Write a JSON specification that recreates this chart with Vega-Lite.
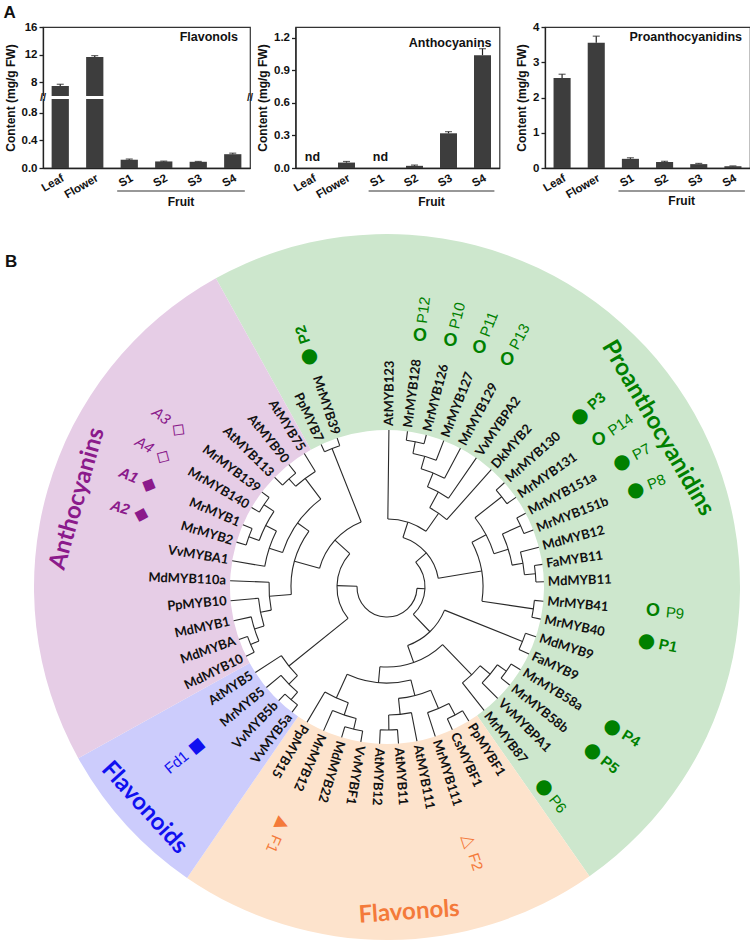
{
  "$schema": "https://vega.github.io/schema/vega-lite/v6.json",
  "background": "white",
  "padding": {"left": 3, "top": 4, "right": 0, "bottom": 0},
  "config": {
    "view": {"stroke": null},
    "font": "Liberation Sans",
    "axis": {"labelFont": "Liberation Sans", "labelFontWeight": "bold", "labelFontSize": 11.5, "labelColor": "#111", "labelOverlap": false, "titleFont": "Liberation Sans", "titleFontWeight": "bold", "titleFontSize": 12, "titleColor": "#111", "domainColor": "#222", "domainWidth": 1.3, "tickColor": "#222", "tickWidth": 1.3, "tickSize": 4, "grid": false}
  },
  "datasets": {
    "flav": [
      {"sample": "Leaf", "value": 7.45, "hi": 7.7},
      {"sample": "Flower", "value": 11.65, "hi": 11.85},
      {"sample": "S1", "value": 0.12, "hi": 0.13},
      {"sample": "S2", "value": 0.095, "hi": 0.1},
      {"sample": "S3", "value": 0.09, "hi": 0.095},
      {"sample": "S4", "value": 0.2, "hi": 0.215}
    ],
    "anth": [
      {"sample": "Leaf", "value": null, "hi": null, "note": "nd"},
      {"sample": "Flower", "value": 0.05, "hi": 0.06, "note": ""},
      {"sample": "S1", "value": null, "hi": null, "note": "nd"},
      {"sample": "S2", "value": 0.02, "hi": 0.027, "note": ""},
      {"sample": "S3", "value": 0.32, "hi": 0.335, "note": ""},
      {"sample": "S4", "value": 1.04, "hi": 1.1, "note": ""}
    ],
    "pa": [
      {"sample": "Leaf", "value": 2.55, "hi": 2.66},
      {"sample": "Flower", "value": 3.55, "hi": 3.74},
      {"sample": "S1", "value": 0.26, "hi": 0.29},
      {"sample": "S2", "value": 0.17, "hi": 0.19},
      {"sample": "S3", "value": 0.11, "hi": 0.13},
      {"sample": "S4", "value": 0.05, "hi": 0.06}
    ],
    "fruit": [{"first": "S1", "last": "S4", "mid": "S2", "label": "Fruit"}],
    "breaks": [{"edge": "Leaf", "mark": "//"}],
    "breaksRight": [{"edge": "S4", "mark": "//"}],
    "sectors": [
      {"group": "Proanthocyanidins", "start": 331, "end": 505},
      {"group": "Flavonols", "start": 145, "end": 214.5},
      {"group": "Flavonoids", "start": 214.5, "end": 241},
      {"group": "Anthocyanins", "start": 241, "end": 331}
    ],
    "clades": [
      {"group": "Proanthocyanidins", "theta": 59.6, "dist": 314},
      {"group": "Anthocyanins", "theta": 285.9, "dist": 322},
      {"group": "Flavonoids", "theta": 227.7, "dist": 328},
      {"group": "Flavonols", "theta": 176.1, "dist": 326}
    ],
    "leaves": [
      {"name": "AtMYB123", "theta": 0.7, "rp": 68},
      {"name": "MrMYB128", "theta": 7.5, "rp": 148},
      {"name": "MrMYB126", "theta": 14.5, "rp": 148},
      {"name": "MrMYB127", "theta": 21.2, "rp": 136},
      {"name": "MrMYB129", "theta": 27.9, "rp": 123},
      {"name": "VvMYBPA2", "theta": 34.7, "rp": 108},
      {"name": "DkMYB2", "theta": 41.6, "rp": 90},
      {"name": "MrMYB130", "theta": 48.4, "rp": 146},
      {"name": "MrMYB131", "theta": 55.2, "rp": 146},
      {"name": "MrMYB151a", "theta": 62, "rp": 147},
      {"name": "MrMYB151b", "theta": 68.7, "rp": 147},
      {"name": "MdMYB12", "theta": 75.3, "rp": 138},
      {"name": "FaMYB11", "theta": 81.7, "rp": 149},
      {"name": "MdMYB11", "theta": 88.1, "rp": 149},
      {"name": "MrMYB41", "theta": 95.2, "rp": 148},
      {"name": "MrMYB40", "theta": 101.8, "rp": 148},
      {"name": "MdMYB9", "theta": 108.5, "rp": 146},
      {"name": "FaMYB9", "theta": 115.3, "rp": 146},
      {"name": "MrMYB58a", "theta": 121.8, "rp": 146},
      {"name": "MrMYB58b", "theta": 128.6, "rp": 146},
      {"name": "VvMYBPA1", "theta": 135.2, "rp": 135},
      {"name": "MrMYB87", "theta": 141.8, "rp": 122},
      {"name": "PpMYBF1", "theta": 148.6, "rp": 145},
      {"name": "CsMYBF1", "theta": 155.4, "rp": 145},
      {"name": "MrMYB111", "theta": 162.1, "rp": 132},
      {"name": "AtMYB111", "theta": 169, "rp": 128},
      {"name": "AtMYB11", "theta": 175.8, "rp": 143},
      {"name": "AtMYB12", "theta": 182.7, "rp": 143},
      {"name": "VvMYBF1", "theta": 189.6, "rp": 146},
      {"name": "MdMYB22", "theta": 196.8, "rp": 146},
      {"name": "MrMYB12", "theta": 203.8, "rp": 135},
      {"name": "PpMYB15", "theta": 210.6, "rp": 122},
      {"name": "VvMYB5a", "theta": 217.2, "rp": 148},
      {"name": "VvMYB5b", "theta": 223.6, "rp": 148},
      {"name": "MrMYB5", "theta": 230.2, "rp": 138},
      {"name": "AtMYB5", "theta": 237, "rp": 126},
      {"name": "MdMYB10", "theta": 243.8, "rp": 148},
      {"name": "MdMYBA", "theta": 250.5, "rp": 148},
      {"name": "MdMYB1", "theta": 257.6, "rp": 139},
      {"name": "PpMYB10", "theta": 265, "rp": 129},
      {"name": "MdMYB110a", "theta": 272.3, "rp": 118},
      {"name": "VvMYBA1", "theta": 279.6, "rp": 124},
      {"name": "MrMYB2", "theta": 286.6, "rp": 147},
      {"name": "MrMYB1", "theta": 293.4, "rp": 147},
      {"name": "MrMYB140", "theta": 300.4, "rp": 148},
      {"name": "MrMYB139", "theta": 307.2, "rp": 148},
      {"name": "AtMYB113", "theta": 314.3, "rp": 146},
      {"name": "AtMYB90", "theta": 321.3, "rp": 146},
      {"name": "AtMYB75", "theta": 328.2, "rp": 136},
      {"name": "PpMYB7", "theta": 335.2, "rp": 149},
      {"name": "MrMYB39", "theta": 341.5, "rp": 149}
    ],
    "nodes": [
      {"id": "a", "t": 11.0, "r": 148, "rp": 136, "lo": 7.5, "hi": 14.5},
      {"id": "b", "t": 16.1, "r": 136, "rp": 123, "lo": 11.0, "hi": 21.2},
      {"id": "c", "t": 22.0, "r": 123, "rp": 108, "lo": 16.1, "hi": 27.9},
      {"id": "d", "t": 28.35, "r": 108, "rp": 90, "lo": 22.0, "hi": 34.7},
      {"id": "e", "t": 35.0, "r": 90, "rp": 68, "lo": 28.35, "hi": 41.6},
      {"id": "f", "t": 17.85, "r": 68, "rp": 52, "lo": 0.7, "hi": 35.0},
      {"id": "g", "t": 51.8, "r": 146, "rp": 112, "lo": 48.4, "hi": 55.2},
      {"id": "h", "t": 65.35, "r": 147, "rp": 127, "lo": 62, "hi": 68.7},
      {"id": "i", "t": 84.9, "r": 149, "rp": 138, "lo": 81.7, "hi": 88.1},
      {"id": "j", "t": 80.1, "r": 138, "rp": 127, "lo": 75.3, "hi": 84.9},
      {"id": "k", "t": 72.7, "r": 127, "rp": 112, "lo": 65.35, "hi": 80.1},
      {"id": "l", "t": 62.25, "r": 112, "rp": 96, "lo": 51.8, "hi": 72.7},
      {"id": "m", "t": 98.5, "r": 148, "rp": 96, "lo": 95.2, "hi": 101.8},
      {"id": "n", "t": 111.9, "r": 146, "rp": 62, "lo": 108.5, "hi": 115.3},
      {"id": "p", "t": 125.2, "r": 146, "rp": 135, "lo": 121.8, "hi": 128.6},
      {"id": "q", "t": 130.2, "r": 135, "rp": 122, "lo": 125.2, "hi": 135.2},
      {"id": "s", "t": 136.0, "r": 122, "rp": 80, "lo": 130.2, "hi": 141.8},
      {"id": "t", "t": 152.0, "r": 145, "rp": 132, "lo": 148.6, "hi": 155.4},
      {"id": "u", "t": 157.05, "r": 132, "rp": 112, "lo": 152.0, "hi": 162.1},
      {"id": "v", "t": 179.25, "r": 143, "rp": 128, "lo": 175.8, "hi": 182.7},
      {"id": "w", "t": 174.1, "r": 128, "rp": 112, "lo": 169, "hi": 179.25},
      {"id": "x", "t": 165.6, "r": 112, "rp": 96, "lo": 157.05, "hi": 174.1},
      {"id": "y1", "t": 193.2, "r": 146, "rp": 135, "lo": 189.6, "hi": 196.8},
      {"id": "y2", "t": 198.5, "r": 135, "rp": 122, "lo": 193.2, "hi": 203.8},
      {"id": "y3", "t": 204.55, "r": 122, "rp": 96, "lo": 198.5, "hi": 210.6},
      {"id": "z", "t": 185.1, "r": 96, "rp": 80, "lo": 165.6, "hi": 204.55},
      {"id": "aa", "t": 220.4, "r": 148, "rp": 138, "lo": 217.2, "hi": 223.6},
      {"id": "bb", "t": 225.3, "r": 138, "rp": 126, "lo": 220.4, "hi": 230.2},
      {"id": "cc", "t": 231.15, "r": 126, "rp": 50, "lo": 225.3, "hi": 237},
      {"id": "dd", "t": 247.15, "r": 148, "rp": 139, "lo": 243.8, "hi": 250.5},
      {"id": "ee", "t": 252.4, "r": 139, "rp": 129, "lo": 247.15, "hi": 257.6},
      {"id": "ff", "t": 258.7, "r": 129, "rp": 118, "lo": 252.4, "hi": 265},
      {"id": "gg", "t": 265.5, "r": 118, "rp": 96, "lo": 258.7, "hi": 272.3},
      {"id": "hh", "t": 290.0, "r": 147, "rp": 136, "lo": 286.6, "hi": 293.4},
      {"id": "ii", "t": 303.8, "r": 148, "rp": 136, "lo": 300.4, "hi": 307.2},
      {"id": "jj", "t": 296.9, "r": 136, "rp": 124, "lo": 290.0, "hi": 303.8},
      {"id": "kk", "t": 288.25, "r": 124, "rp": 110, "lo": 279.6, "hi": 296.9},
      {"id": "ll", "t": 317.8, "r": 146, "rp": 136, "lo": 314.3, "hi": 321.3},
      {"id": "mm", "t": 323.0, "r": 136, "rp": 110, "lo": 317.8, "hi": 328.2},
      {"id": "nn", "t": 305.6, "r": 110, "rp": 96, "lo": 288.25, "hi": 323.0},
      {"id": "oo", "t": 285.55, "r": 96, "rp": 70, "lo": 265.5, "hi": 305.6},
      {"id": "pp", "t": 338.35, "r": 149, "rp": 70, "lo": 335.2, "hi": 341.5},
      {"id": "qq", "t": 311.95, "r": 70, "rp": 50, "lo": 285.55, "hi": 338.35},
      {"id": "rr", "t": 271.55, "r": 50, "rp": 30, "lo": 231.15, "hi": 311.95},
      {"id": "ss", "t": 80.4, "r": 96, "rp": 52, "lo": 62.25, "hi": 98.5},
      {"id": "tt", "t": 49.1, "r": 52, "rp": 38, "lo": 17.85, "hi": 80.4},
      {"id": "uu", "t": 160.55, "r": 80, "rp": 62, "lo": 136.0, "hi": 185.1},
      {"id": "vv", "t": 136.2, "r": 62, "rp": 38, "lo": 111.9, "hi": 160.55},
      {"id": "ww", "t": 92.65, "r": 38, "rp": 30, "lo": 49.1, "hi": 136.2},
      {"id": "root", "t": 182.1, "r": 30, "rp": 30, "lo": 92.65, "hi": 271.55}
    ],
    "markers": [
      {"label": "P12", "theta": 7.5, "r": 253, "kind": "open circle", "group": "Proanthocyanidins", "key": false},
      {"label": "P10", "theta": 14.5, "r": 254, "kind": "open circle", "group": "Proanthocyanidins", "key": false},
      {"label": "P11", "theta": 21.2, "r": 256, "kind": "open circle", "group": "Proanthocyanidins", "key": false},
      {"label": "P13", "theta": 27.9, "r": 257, "kind": "open circle", "group": "Proanthocyanidins", "key": false},
      {"label": "P3", "theta": 48.4, "r": 258, "kind": "filled circle", "group": "Proanthocyanidins", "key": true},
      {"label": "P14", "theta": 55.2, "r": 258, "kind": "open circle", "group": "Proanthocyanidins", "key": false},
      {"label": "P7", "theta": 62, "r": 266, "kind": "filled circle", "group": "Proanthocyanidins", "key": false},
      {"label": "P8", "theta": 68.7, "r": 267, "kind": "filled circle", "group": "Proanthocyanidins", "key": false},
      {"label": "P9", "theta": 95.2, "r": 267, "kind": "open circle", "group": "Proanthocyanidins", "key": false},
      {"label": "P1", "theta": 101.8, "r": 265, "kind": "filled circle", "group": "Proanthocyanidins", "key": true},
      {"label": "P4", "theta": 121.8, "r": 265, "kind": "filled circle", "group": "Proanthocyanidins", "key": true},
      {"label": "P5", "theta": 128.6, "r": 263, "kind": "filled circle", "group": "Proanthocyanidins", "key": true},
      {"label": "P6", "theta": 141.8, "r": 254, "kind": "filled circle", "group": "Proanthocyanidins", "key": false},
      {"label": "P2", "theta": 341.5, "r": 244, "kind": "filled circle", "group": "Proanthocyanidins", "key": true},
      {"label": "A3", "theta": 307.2, "r": 261, "kind": "open diamond", "group": "Anthocyanins", "key": false},
      {"label": "A4", "theta": 300.4, "r": 259, "kind": "open diamond", "group": "Anthocyanins", "key": false},
      {"label": "A1", "theta": 293.4, "r": 259, "kind": "filled diamond", "group": "Anthocyanins", "key": true},
      {"label": "A2", "theta": 286.6, "r": 256, "kind": "filled diamond", "group": "Anthocyanins", "key": true},
      {"label": "Fd1", "theta": 230.2, "r": 248, "kind": "filled square", "group": "Flavonoids", "key": false},
      {"label": "F1", "theta": 203.8, "r": 259, "kind": "filled triangle", "group": "Flavonols", "key": false},
      {"label": "F2", "theta": 162.1, "r": 267, "kind": "open triangle", "group": "Flavonols", "key": false}
    ]
  },
  "vconcat": [
    {
      "hconcat": [
        {
          "width": 207, "height": 141,
          "view": {"stroke": "#333", "strokeWidth": 1.2},
          "title": {"text": "Flavonols", "anchor": "end", "frame": "group", "offset": -22, "dx": -12, "fontSize": 12.5, "fontWeight": "bold", "font": "Liberation Sans", "color": "#111"},
          "layer": [
            {"data": {"name": "flav"}, "mark": {"type": "bar", "color": "#3d3d3d"},
             "encoding": {
               "x": {"field": "sample", "type": "nominal", "scale": {"domain": ["Leaf", "Flower", "S1", "S2", "S3", "S4"], "paddingInner": 0.5, "paddingOuter": 0.25}, "axis": {"title": null, "labelAngle": -30, "ticks": false, "labelPadding": 4}},
               "y": {"field": "value", "type": "quantitative", "scale": {"domain": [0, 1, 6, 16], "range": [141, 72, 69, 0], "nice": false, "zero": false}, "axis": {"values": [0, 0.4, 0.8, 8, 12, 16], "tickCount": 12, "labelOverlap": false, "labelExpr": "datum.value < 1 ? format(datum.value, '.1f') : format(datum.value, 'd')", "title": "Content (mg/g FW)"}}
             }},
            {"data": {"name": "flav"}, "mark": {"type": "rule", "color": "#222", "strokeWidth": 1.2},
             "encoding": {"x": {"field": "sample", "type": "nominal"}, "y": {"field": "value", "type": "quantitative"}, "y2": {"field": "hi"}}},
            {"data": {"name": "flav"}, "mark": {"type": "tick", "color": "#222", "thickness": 1.2, "size": 7},
             "encoding": {"x": {"field": "sample", "type": "nominal"}, "y": {"field": "hi", "type": "quantitative"}}},
            {"data": {"values": [{"gap": "axis break"}]}, "mark": {"type": "rect", "color": "white"},
             "encoding": {"y": {"datum": 1}, "y2": {"datum": 6}}},
            {"data": {"name": "breaks"}, "mark": {"type": "text", "fontSize": 11, "fontWeight": "bold", "baseline": "middle", "align": "center", "color": "#222", "font": "Liberation Sans"},
             "encoding": {"x": {"field": "edge", "type": "nominal", "bandPosition": -0.5}, "y": {"datum": 3.5}, "text": {"field": "mark"}}},
            {"data": {"name": "breaksRight"}, "mark": {"type": "text", "fontSize": 11, "fontWeight": "bold", "baseline": "middle", "align": "center", "color": "#222", "font": "Liberation Sans"},
             "encoding": {"x": {"field": "edge", "type": "nominal", "bandPosition": 1.5}, "y": {"datum": 3.5}, "text": {"field": "mark"}}},
            {"data": {"name": "fruit"}, "mark": {"type": "rule", "color": "#333", "strokeWidth": 1.2},
             "encoding": {"x": {"field": "first", "type": "nominal", "bandPosition": -0.2}, "x2": {"field": "last", "bandPosition": 1.2}, "y": {"datum": -0.333}}},
            {"data": {"name": "fruit"}, "mark": {"type": "text", "fontWeight": "bold", "fontSize": 12, "baseline": "middle", "font": "Liberation Sans", "color": "#111"},
             "encoding": {"x": {"field": "mid", "type": "nominal", "bandPosition": 1.5}, "y": {"datum": -0.486}, "text": {"field": "label"}}}
          ]
        },
        {
          "width": 204, "height": 141,
          "view": {"stroke": "#333", "strokeWidth": 1.2},
          "title": {"text": "Anthocyanins", "anchor": "end", "frame": "group", "offset": -22, "dx": -8, "fontSize": 12.5, "fontWeight": "bold", "font": "Liberation Sans", "color": "#111"},
          "layer": [
            {"data": {"name": "anth"}, "mark": {"type": "bar", "color": "#3d3d3d"},
             "encoding": {
               "x": {"field": "sample", "type": "nominal", "scale": {"domain": ["Leaf", "Flower", "S1", "S2", "S3", "S4"], "paddingInner": 0.5, "paddingOuter": 0.25}, "axis": {"title": null, "labelAngle": -30, "ticks": false, "labelPadding": 4}},
               "y": {"field": "value", "type": "quantitative", "scale": {"domain": [0, 1.3], "nice": false}, "axis": {"values": [0, 0.3, 0.6, 0.9, 1.2], "tickCount": 12, "labelOverlap": false, "format": ".1f", "title": "Content (mg/g FW)"}}
             }},
            {"data": {"name": "anth"}, "mark": {"type": "rule", "color": "#222", "strokeWidth": 1.2},
             "encoding": {"x": {"field": "sample", "type": "nominal"}, "y": {"field": "value", "type": "quantitative"}, "y2": {"field": "hi"}}},
            {"data": {"name": "anth"}, "mark": {"type": "tick", "color": "#222", "thickness": 1.2, "size": 7},
             "encoding": {"x": {"field": "sample", "type": "nominal"}, "y": {"field": "hi", "type": "quantitative"}}},
            {"data": {"name": "anth"}, "transform": [{"filter": "datum.note == 'nd'"}],
             "mark": {"type": "text", "fontWeight": "bold", "fontSize": 12.5, "baseline": "bottom", "dy": -4, "font": "Liberation Sans", "color": "#111"},
             "encoding": {"x": {"field": "sample", "type": "nominal"}, "y": {"datum": 0}, "text": {"field": "note"}}},
            {"data": {"name": "fruit"}, "mark": {"type": "rule", "color": "#333", "strokeWidth": 1.2},
             "encoding": {"x": {"field": "first", "type": "nominal", "bandPosition": -0.2}, "x2": {"field": "last", "bandPosition": 1.2}, "y": {"datum": -0.212}}},
            {"data": {"name": "fruit"}, "mark": {"type": "text", "fontWeight": "bold", "fontSize": 12, "baseline": "middle", "font": "Liberation Sans", "color": "#111"},
             "encoding": {"x": {"field": "mid", "type": "nominal", "bandPosition": 1.5}, "y": {"datum": -0.309}, "text": {"field": "label"}}}
          ]
        },
        {
          "width": 205, "height": 141,
          "view": {"stroke": "#333", "strokeWidth": 1.2},
          "title": {"text": "Proanthocyanidins", "anchor": "end", "frame": "group", "offset": -22, "dx": -8, "fontSize": 12.5, "fontWeight": "bold", "font": "Liberation Sans", "color": "#111"},
          "layer": [
            {"data": {"name": "pa"}, "mark": {"type": "bar", "color": "#3d3d3d"},
             "encoding": {
               "x": {"field": "sample", "type": "nominal", "scale": {"domain": ["Leaf", "Flower", "S1", "S2", "S3", "S4"], "paddingInner": 0.5, "paddingOuter": 0.25}, "axis": {"title": null, "labelAngle": -30, "ticks": false, "labelPadding": 4}},
               "y": {"field": "value", "type": "quantitative", "scale": {"domain": [0, 4], "nice": false}, "axis": {"values": [0, 1, 2, 3, 4], "tickCount": 12, "labelOverlap": false, "format": "d", "title": "Content (mg/g FW)"}}
             }},
            {"data": {"name": "pa"}, "mark": {"type": "rule", "color": "#222", "strokeWidth": 1.2},
             "encoding": {"x": {"field": "sample", "type": "nominal"}, "y": {"field": "value", "type": "quantitative"}, "y2": {"field": "hi"}}},
            {"data": {"name": "pa"}, "mark": {"type": "tick", "color": "#222", "thickness": 1.2, "size": 7},
             "encoding": {"x": {"field": "sample", "type": "nominal"}, "y": {"field": "hi", "type": "quantitative"}}},
            {"data": {"name": "fruit"}, "mark": {"type": "rule", "color": "#333", "strokeWidth": 1.2},
             "encoding": {"x": {"field": "first", "type": "nominal", "bandPosition": -0.2}, "x2": {"field": "last", "bandPosition": 1.2}, "y": {"datum": -0.652}}},
            {"data": {"name": "fruit"}, "mark": {"type": "text", "fontWeight": "bold", "fontSize": 12, "baseline": "middle", "font": "Liberation Sans", "color": "#111"},
             "encoding": {"x": {"field": "mid", "type": "nominal", "bandPosition": 1.5}, "y": {"datum": -0.95}, "text": {"field": "label"}}}
          ]
        }
      ],
      "spacing": 45.5,
      "bounds": "flush",
      "title": {"text": "A", "anchor": "start", "frame": "bounds", "fontSize": 17, "fontWeight": "bold", "font": "Liberation Sans", "color": "#111", "offset": -2}
    },
    {
      "width": 688, "height": 688,
      "title": {"text": "B", "anchor": "start", "frame": "group", "dx": -38, "offset": -37, "fontSize": 17, "fontWeight": "bold", "font": "Liberation Sans", "color": "#111"},
      "layer": [
        {"data": {"name": "sectors"}, "mark": {"type": "arc"},
         "encoding": {
           "theta": {"field": "start", "type": "quantitative", "stack": null, "scale": {"domain": [0, 360], "range": [0, 6.283185307179586]}},
           "theta2": {"field": "end"},
           "radius": {"datum": 353, "type": "quantitative", "scale": {"type": "linear", "domain": [0, 344], "range": [0, 344]}},
           "radius2": {"datum": 157},
           "color": {"field": "group", "type": "nominal", "scale": {"domain": ["Proanthocyanidins", "Anthocyanins", "Flavonoids", "Flavonols"], "range": ["#cde7cd", "#e6cde6", "#ccccfc", "#fde3cc"]}, "legend": null}
         }},
        {"data": {"name": "leaves"}, "mark": {"type": "arc", "filled": false, "color": "#2a2a2a", "strokeWidth": 1.1},
         "encoding": {
           "theta": {"field": "theta", "type": "quantitative", "stack": null, "scale": {"domain": [0, 360], "range": [0, 6.283185307179586]}},
           "theta2": {"field": "theta"},
           "radius": {"field": "rp", "type": "quantitative", "scale": {"type": "linear", "domain": [0, 344], "range": [0, 344]}},
           "radius2": {"datum": 157}
         }},
        {"data": {"name": "nodes"}, "mark": {"type": "arc", "filled": false, "color": "#2a2a2a", "strokeWidth": 1.1},
         "encoding": {
           "theta": {"field": "t", "type": "quantitative", "stack": null, "scale": {"domain": [0, 360], "range": [0, 6.283185307179586]}},
           "theta2": {"field": "t"},
           "radius": {"field": "r", "type": "quantitative", "scale": {"type": "linear", "domain": [0, 344], "range": [0, 344]}},
           "radius2": {"field": "rp"}
         }},
        {"data": {"name": "nodes"}, "mark": {"type": "arc", "filled": false, "color": "#2a2a2a", "strokeWidth": 1.1},
         "encoding": {
           "theta": {"field": "lo", "type": "quantitative", "stack": null, "scale": {"domain": [0, 360], "range": [0, 6.283185307179586]}},
           "theta2": {"field": "hi"},
           "radius": {"field": "r", "type": "quantitative", "scale": {"type": "linear", "domain": [0, 344], "range": [0, 344]}},
           "radius2": {"field": "r"}
         }},
        {"data": {"name": "leaves"}, "transform": [{"filter": "datum.theta <= 212"}],
         "mark": {"type": "text", "align": "left", "baseline": "middle", "font": "Lato", "fontWeight": "bold", "fontSize": 13, "color": "#111"},
         "encoding": {
           "theta": {"field": "theta", "type": "quantitative", "stack": null, "scale": {"domain": [0, 360], "range": [0, 6.283185307179586]}},
           "radius": {"datum": 161, "type": "quantitative", "scale": {"type": "linear", "domain": [0, 344], "range": [0, 344]}},
           "angle": {"field": "theta", "type": "quantitative", "scale": {"domain": [0, 360], "range": [-90, 270]}, "legend": null},
           "text": {"field": "name"}
         }},
        {"data": {"name": "leaves"}, "transform": [{"filter": "datum.theta > 212"}],
         "mark": {"type": "text", "align": "right", "baseline": "middle", "font": "Lato", "fontWeight": "bold", "fontSize": 13, "color": "#111"},
         "encoding": {
           "theta": {"field": "theta", "type": "quantitative", "stack": null, "scale": {"domain": [0, 360], "range": [0, 6.283185307179586]}},
           "radius": {"datum": 161, "type": "quantitative", "scale": {"type": "linear", "domain": [0, 344], "range": [0, 344]}},
           "angle": {"field": "theta", "type": "quantitative", "scale": {"domain": [0, 360], "range": [-270, 90]}, "legend": null},
           "text": {"field": "name"}
         }},
        {"data": {"name": "markers"}, "transform": [{"filter": "datum.kind == 'filled circle'"}],
         "mark": {"type": "text", "text": "●", "font": "DejaVu Sans", "fontSize": 20, "baseline": "middle", "align": "center"},
         "encoding": {
           "theta": {"field": "theta", "type": "quantitative", "stack": null, "scale": {"domain": [0, 360], "range": [0, 6.283185307179586]}},
           "radius": {"field": "r", "type": "quantitative", "scale": {"type": "linear", "domain": [0, 344], "range": [0, 344]}},
           "color": {"field": "group", "type": "nominal", "scale": {"domain": ["Proanthocyanidins", "Anthocyanins", "Flavonoids", "Flavonols"], "range": ["#008000", "#8b1a8b", "#1010f0", "#f47a3a"]}, "legend": null}
         }},
        {"data": {"name": "markers"}, "transform": [{"filter": "datum.kind == 'open circle'"}],
         "mark": {"type": "text", "text": "O", "font": "Liberation Sans", "fontWeight": "bold", "fontSize": 18, "baseline": "middle", "align": "center"},
         "encoding": {
           "theta": {"field": "theta", "type": "quantitative", "stack": null, "scale": {"domain": [0, 360], "range": [0, 6.283185307179586]}},
           "radius": {"field": "r", "type": "quantitative", "scale": {"type": "linear", "domain": [0, 344], "range": [0, 344]}},
           "color": {"field": "group", "type": "nominal", "scale": {"domain": ["Proanthocyanidins", "Anthocyanins", "Flavonoids", "Flavonols"], "range": ["#008000", "#8b1a8b", "#1010f0", "#f47a3a"]}, "legend": null}
         }},
        {"data": {"name": "markers"}, "transform": [{"filter": "datum.kind == 'filled diamond'"}],
         "mark": {"type": "text", "text": "◆", "font": "DejaVu Sans", "fontSize": 19, "baseline": "middle", "align": "center"},
         "encoding": {
           "theta": {"field": "theta", "type": "quantitative", "stack": null, "scale": {"domain": [0, 360], "range": [0, 6.283185307179586]}},
           "radius": {"field": "r", "type": "quantitative", "scale": {"type": "linear", "domain": [0, 344], "range": [0, 344]}},
           "angle": {"field": "theta", "type": "quantitative", "scale": {"domain": [0, 360], "range": [-270, 90]}, "legend": null},
           "color": {"field": "group", "type": "nominal", "scale": {"domain": ["Proanthocyanidins", "Anthocyanins", "Flavonoids", "Flavonols"], "range": ["#008000", "#8b1a8b", "#1010f0", "#f47a3a"]}, "legend": null}
         }},
        {"data": {"name": "markers"}, "transform": [{"filter": "datum.kind == 'open diamond'"}],
         "mark": {"type": "text", "text": "◇", "font": "DejaVu Sans", "fontWeight": "bold", "fontSize": 19, "baseline": "middle", "align": "center"},
         "encoding": {
           "theta": {"field": "theta", "type": "quantitative", "stack": null, "scale": {"domain": [0, 360], "range": [0, 6.283185307179586]}},
           "radius": {"field": "r", "type": "quantitative", "scale": {"type": "linear", "domain": [0, 344], "range": [0, 344]}},
           "angle": {"field": "theta", "type": "quantitative", "scale": {"domain": [0, 360], "range": [-270, 90]}, "legend": null},
           "color": {"field": "group", "type": "nominal", "scale": {"domain": ["Proanthocyanidins", "Anthocyanins", "Flavonoids", "Flavonols"], "range": ["#008000", "#8b1a8b", "#1010f0", "#f47a3a"]}, "legend": null}
         }},
        {"data": {"name": "markers"}, "transform": [{"filter": "datum.kind == 'filled square'"}],
         "mark": {"type": "text", "text": "■", "font": "DejaVu Sans", "fontSize": 16, "baseline": "middle", "align": "center"},
         "encoding": {
           "theta": {"field": "theta", "type": "quantitative", "stack": null, "scale": {"domain": [0, 360], "range": [0, 6.283185307179586]}},
           "radius": {"field": "r", "type": "quantitative", "scale": {"type": "linear", "domain": [0, 344], "range": [0, 344]}},
           "angle": {"field": "theta", "type": "quantitative", "scale": {"domain": [0, 360], "range": [-270, 90]}, "legend": null},
           "color": {"field": "group", "type": "nominal", "scale": {"domain": ["Proanthocyanidins", "Anthocyanins", "Flavonoids", "Flavonols"], "range": ["#008000", "#8b1a8b", "#1010f0", "#f47a3a"]}, "legend": null}
         }},
        {"data": {"name": "markers"}, "transform": [{"filter": "datum.kind == 'filled triangle'"}],
         "mark": {"type": "text", "text": "▲", "font": "DejaVu Sans", "fontSize": 17, "baseline": "middle", "align": "center"},
         "encoding": {
           "theta": {"field": "theta", "type": "quantitative", "stack": null, "scale": {"domain": [0, 360], "range": [0, 6.283185307179586]}},
           "radius": {"field": "r", "type": "quantitative", "scale": {"type": "linear", "domain": [0, 344], "range": [0, 344]}},
           "angle": {"field": "theta", "type": "quantitative", "scale": {"domain": [0, 360], "range": [-90, 270]}, "legend": null},
           "color": {"field": "group", "type": "nominal", "scale": {"domain": ["Proanthocyanidins", "Anthocyanins", "Flavonoids", "Flavonols"], "range": ["#008000", "#8b1a8b", "#1010f0", "#f47a3a"]}, "legend": null}
         }},
        {"data": {"name": "markers"}, "transform": [{"filter": "datum.kind == 'open triangle'"}],
         "mark": {"type": "text", "text": "△", "font": "DejaVu Sans", "fontWeight": "bold", "fontSize": 17, "baseline": "middle", "align": "center"},
         "encoding": {
           "theta": {"field": "theta", "type": "quantitative", "stack": null, "scale": {"domain": [0, 360], "range": [0, 6.283185307179586]}},
           "radius": {"field": "r", "type": "quantitative", "scale": {"type": "linear", "domain": [0, 344], "range": [0, 344]}},
           "angle": {"field": "theta", "type": "quantitative", "scale": {"domain": [0, 360], "range": [-90, 270]}, "legend": null},
           "color": {"field": "group", "type": "nominal", "scale": {"domain": ["Proanthocyanidins", "Anthocyanins", "Flavonoids", "Flavonols"], "range": ["#008000", "#8b1a8b", "#1010f0", "#f47a3a"]}, "legend": null}
         }},
        {"data": {"name": "markers"}, "transform": [{"filter": "(datum.theta <= 212 || datum.theta >= 330) && !datum.key"}],
         "mark": {"type": "text", "align": "left", "baseline": "middle", "radiusOffset": 13, "font": "Liberation Sans", "fontSize": 15},
         "encoding": {
           "theta": {"field": "theta", "type": "quantitative", "stack": null, "scale": {"domain": [0, 360], "range": [0, 6.283185307179586]}},
           "radius": {"field": "r", "type": "quantitative", "scale": {"type": "linear", "domain": [0, 344], "range": [0, 344]}},
           "angle": {"field": "theta", "type": "quantitative", "scale": {"domain": [0, 360], "range": [-90, 270]}, "legend": null},
           "color": {"field": "group", "type": "nominal", "scale": {"domain": ["Proanthocyanidins", "Anthocyanins", "Flavonoids", "Flavonols"], "range": ["#008000", "#8b1a8b", "#1010f0", "#f47a3a"]}, "legend": null},
           "text": {"field": "label"}
         }},
        {"data": {"name": "markers"}, "transform": [{"filter": "(datum.theta <= 212 || datum.theta >= 330) && datum.key"}],
         "mark": {"type": "text", "align": "left", "baseline": "middle", "radiusOffset": 13, "font": "Liberation Sans", "fontWeight": "bold", "fontSize": 15},
         "encoding": {
           "theta": {"field": "theta", "type": "quantitative", "stack": null, "scale": {"domain": [0, 360], "range": [0, 6.283185307179586]}},
           "radius": {"field": "r", "type": "quantitative", "scale": {"type": "linear", "domain": [0, 344], "range": [0, 344]}},
           "angle": {"field": "theta", "type": "quantitative", "scale": {"domain": [0, 360], "range": [-90, 270]}, "legend": null},
           "color": {"field": "group", "type": "nominal", "scale": {"domain": ["Proanthocyanidins", "Anthocyanins", "Flavonoids", "Flavonols"], "range": ["#008000", "#8b1a8b", "#1010f0", "#f47a3a"]}, "legend": null},
           "text": {"field": "label"}
         }},
        {"data": {"name": "markers"}, "transform": [{"filter": "datum.group == 'Anthocyanins' && !datum.key"}],
         "mark": {"type": "text", "align": "right", "baseline": "middle", "radiusOffset": 13, "font": "Liberation Sans", "fontStyle": "italic", "fontSize": 15},
         "encoding": {
           "theta": {"field": "theta", "type": "quantitative", "stack": null, "scale": {"domain": [0, 360], "range": [0, 6.283185307179586]}},
           "radius": {"field": "r", "type": "quantitative", "scale": {"type": "linear", "domain": [0, 344], "range": [0, 344]}},
           "angle": {"field": "theta", "type": "quantitative", "scale": {"domain": [0, 360], "range": [-270, 90]}, "legend": null},
           "color": {"field": "group", "type": "nominal", "scale": {"domain": ["Proanthocyanidins", "Anthocyanins", "Flavonoids", "Flavonols"], "range": ["#008000", "#8b1a8b", "#1010f0", "#f47a3a"]}, "legend": null},
           "text": {"field": "label"}
         }},
        {"data": {"name": "markers"}, "transform": [{"filter": "datum.group == 'Anthocyanins' && datum.key"}],
         "mark": {"type": "text", "align": "right", "baseline": "middle", "radiusOffset": 13, "font": "Liberation Sans", "fontStyle": "italic", "fontWeight": "bold", "fontSize": 15},
         "encoding": {
           "theta": {"field": "theta", "type": "quantitative", "stack": null, "scale": {"domain": [0, 360], "range": [0, 6.283185307179586]}},
           "radius": {"field": "r", "type": "quantitative", "scale": {"type": "linear", "domain": [0, 344], "range": [0, 344]}},
           "angle": {"field": "theta", "type": "quantitative", "scale": {"domain": [0, 360], "range": [-270, 90]}, "legend": null},
           "color": {"field": "group", "type": "nominal", "scale": {"domain": ["Proanthocyanidins", "Anthocyanins", "Flavonoids", "Flavonols"], "range": ["#008000", "#8b1a8b", "#1010f0", "#f47a3a"]}, "legend": null},
           "text": {"field": "label"}
         }},
        {"data": {"name": "markers"}, "transform": [{"filter": "datum.group == 'Flavonoids'"}],
         "mark": {"type": "text", "align": "right", "baseline": "middle", "radiusOffset": 13, "font": "Liberation Sans", "fontSize": 15},
         "encoding": {
           "theta": {"field": "theta", "type": "quantitative", "stack": null, "scale": {"domain": [0, 360], "range": [0, 6.283185307179586]}},
           "radius": {"field": "r", "type": "quantitative", "scale": {"type": "linear", "domain": [0, 344], "range": [0, 344]}},
           "angle": {"field": "theta", "type": "quantitative", "scale": {"domain": [0, 360], "range": [-270, 90]}, "legend": null},
           "color": {"field": "group", "type": "nominal", "scale": {"domain": ["Proanthocyanidins", "Anthocyanins", "Flavonoids", "Flavonols"], "range": ["#008000", "#8b1a8b", "#1010f0", "#f47a3a"]}, "legend": null},
           "text": {"field": "label"}
         }},
        {"data": {"name": "clades"}, "transform": [{"filter": "datum.theta < 90 || datum.theta > 270"}],
         "mark": {"type": "text", "align": "center", "baseline": "middle", "font": "Lato", "fontWeight": "bold", "fontSize": 24},
         "encoding": {
           "theta": {"field": "theta", "type": "quantitative", "stack": null, "scale": {"domain": [0, 360], "range": [0, 6.283185307179586]}},
           "radius": {"field": "dist", "type": "quantitative", "scale": {"type": "linear", "domain": [0, 344], "range": [0, 344]}},
           "angle": {"field": "theta", "type": "quantitative", "scale": {"domain": [0, 360], "range": [0, 360]}, "legend": null},
           "color": {"field": "group", "type": "nominal", "scale": {"domain": ["Proanthocyanidins", "Anthocyanins", "Flavonoids", "Flavonols"], "range": ["#008000", "#8b1a8b", "#1010f0", "#f47a3a"]}, "legend": null},
           "text": {"field": "group"}
         }},
        {"data": {"name": "clades"}, "transform": [{"filter": "datum.theta >= 90 && datum.theta <= 270"}],
         "mark": {"type": "text", "align": "center", "baseline": "middle", "font": "Lato", "fontWeight": "bold", "fontSize": 24},
         "encoding": {
           "theta": {"field": "theta", "type": "quantitative", "stack": null, "scale": {"domain": [0, 360], "range": [0, 6.283185307179586]}},
           "radius": {"field": "dist", "type": "quantitative", "scale": {"type": "linear", "domain": [0, 344], "range": [0, 344]}},
           "angle": {"field": "theta", "type": "quantitative", "scale": {"domain": [0, 360], "range": [-180, 180]}, "legend": null},
           "color": {"field": "group", "type": "nominal", "scale": {"domain": ["Proanthocyanidins", "Anthocyanins", "Flavonoids", "Flavonols"], "range": ["#008000", "#8b1a8b", "#1010f0", "#f47a3a"]}, "legend": null},
           "text": {"field": "group"}
         }}
      ],
      "resolve": {"scale": {"color": "independent", "angle": "independent"}}
    }
  ],
  "spacing": 216,
  "bounds": "flush"
}
